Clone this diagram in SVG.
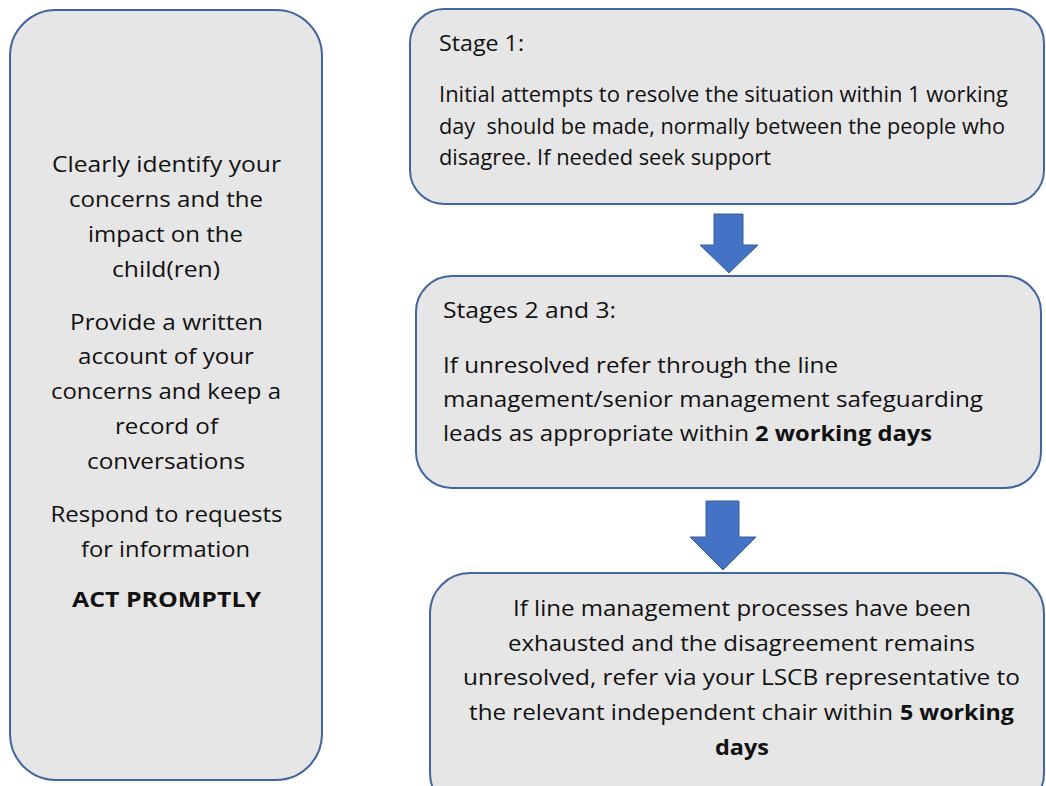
<svg xmlns="http://www.w3.org/2000/svg" width="1046" height="786" viewBox="0 0 1046 786">
  <style>
    .box { fill: #e6e6e6; stroke: #41659f; stroke-width: 2; }
    .arrow { fill: #4472c4; stroke: #3b5f9e; stroke-width: 1; }
    text { font-family: "Open Sans", "Noto Sans", sans-serif; font-size: 22px; fill: #111111; }
    .c { text-anchor: middle; }
    .b { font-weight: bold; }
    .pre { white-space: pre; }
  </style>
  <rect width="1046" height="786" fill="#ffffff"/>

  <!-- left panel: general guidance -->
  <g id="guidance">
    <rect class="box" x="10" y="10" width="312" height="770" rx="46" ry="46"/>
    <text class="c" x="166.5" y="172" textLength="229" lengthAdjust="spacingAndGlyphs">Clearly identify your</text>
    <text class="c" x="166" y="207" textLength="194" lengthAdjust="spacingAndGlyphs">concerns and the</text>
    <text class="c" x="165.5" y="242" textLength="155" lengthAdjust="spacingAndGlyphs">impact on the</text>
    <text class="c" x="166" y="277" textLength="108" lengthAdjust="spacingAndGlyphs">child(ren)</text>
    <text class="c" x="166.5" y="330" textLength="193" lengthAdjust="spacingAndGlyphs">Provide a written</text>
    <text class="c" x="166" y="364" textLength="176" lengthAdjust="spacingAndGlyphs">account of your</text>
    <text class="c" x="166" y="399" textLength="230" lengthAdjust="spacingAndGlyphs">concerns and keep a</text>
    <text class="c" x="166.5" y="434" textLength="103" lengthAdjust="spacingAndGlyphs">record of</text>
    <text class="c" x="166" y="469" textLength="158" lengthAdjust="spacingAndGlyphs">conversations</text>
    <text class="c" x="166.5" y="522" textLength="232" lengthAdjust="spacingAndGlyphs">Respond to requests</text>
    <text class="c" x="165.5" y="557" textLength="169" lengthAdjust="spacingAndGlyphs">for information</text>
    <text class="c b" x="166.5" y="607" textLength="189" lengthAdjust="spacingAndGlyphs">ACT PROMPTLY</text>
  </g>

  <!-- stage 1 -->
  <g id="stage1">
    <rect class="box" x="410" y="9" width="634" height="195" rx="34" ry="34"/>
    <text x="439" y="51" textLength="85" lengthAdjust="spacingAndGlyphs">Stage 1:</text>
    <text x="439" y="102" textLength="569" lengthAdjust="spacingAndGlyphs">Initial attempts to resolve the situation within 1 working</text>
    <text class="pre" x="439" y="134" textLength="566" lengthAdjust="spacingAndGlyphs">day  should be made, normally between the people who</text>
    <text x="439" y="165" textLength="332" lengthAdjust="spacingAndGlyphs">disagree. If needed seek support</text>
  </g>

  <!-- stages 2 and 3 -->
  <g id="stage2">
    <rect class="box" x="416" y="276" width="625" height="212" rx="36" ry="36"/>
    <text x="443" y="318" textLength="173" lengthAdjust="spacingAndGlyphs">Stages 2 and 3:</text>
    <text x="443" y="373" textLength="395" lengthAdjust="spacingAndGlyphs">If unresolved refer through the line</text>
    <text x="443" y="407" textLength="540" lengthAdjust="spacingAndGlyphs">management/senior management safeguarding</text>
    <text x="443" y="441" textLength="306" lengthAdjust="spacingAndGlyphs">leads as appropriate within</text>
    <text class="b" x="755" y="441" textLength="177" lengthAdjust="spacingAndGlyphs">2 working days</text>
  </g>

  <!-- independent chair referral -->
  <g id="stage4">
    <rect class="box" x="430" y="573" width="614" height="240" rx="40" ry="40"/>
    <text x="513" y="616" textLength="458" lengthAdjust="spacingAndGlyphs">If line management processes have been</text>
    <text x="508" y="651" textLength="467" lengthAdjust="spacingAndGlyphs">exhausted and the disagreement remains</text>
    <text x="463" y="685" textLength="557" lengthAdjust="spacingAndGlyphs">unresolved, refer via your LSCB representative to</text>
    <text x="469" y="720" textLength="424" lengthAdjust="spacingAndGlyphs">the relevant independent chair within</text>
    <text class="b" x="900" y="720" textLength="114" lengthAdjust="spacingAndGlyphs">5 working</text>
    <text class="b" x="715" y="755" textLength="54" lengthAdjust="spacingAndGlyphs">days</text>
  </g>

  <!-- block arrows between stages -->
  <g id="connectors">
    <path class="arrow" d="M714,214 H743 V245 H758 L729,273 L700,245 H714 Z"/>
    <path class="arrow" d="M706,501 H739 V537 H756 L723,570 L690,537 H706 Z"/>
  </g>
</svg>
